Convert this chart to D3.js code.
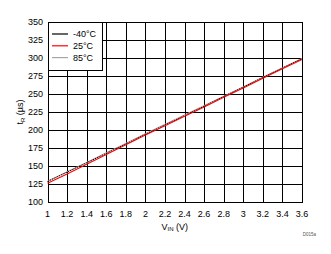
<!DOCTYPE html>
<html lang="en">
<head>
<meta charset="utf-8"/>
<title>tR vs VIN</title>
<script src="https://d3js.org/d3.v7.min.js"></script>
<style>
  body { margin: 0; background: #fff; }
  svg { font-family: "Liberation Sans", Arial, sans-serif; }
  .grid line { stroke: #000; stroke-width: 1; shape-rendering: crispEdges; }
  .grid .domain { display: none; }
  .series { fill: none; }
</style>
</head>
<body>
<div id="chart"></div>
<script>
// input voltage (V)
var vin = [1.0, 1.2, 1.4, 1.6, 1.8, 2.0, 2.2, 2.4, 2.6, 2.8, 3.0, 3.2, 3.4, 3.6];

// rise time (us)
var tMinus40 = [128.5, 141.5, 154.5, 167.5, 180.5, 194, 207, 220, 233, 246.5, 259.5, 273, 286, 299];
var t25      = [126, 139, 152.5, 166, 179.5, 193, 206, 219, 232, 245.5, 258.5, 272, 285, 298];
var t85      = [129, 142, 155, 168.5, 181.5, 195, 208, 221, 234, 247, 260, 273.5, 286.5, 299.5];

var xTicks = [1, 1.2, 1.4, 1.6, 1.8, 2, 2.2, 2.4, 2.6, 2.8, 3, 3.2, 3.4, 3.6];
var yTicks = [100, 125, 150, 175, 200, 225, 250, 275, 300, 325, 350];

var seriesNames = ["-40\u00B0C", "25\u00B0C", "85\u00B0C"];
var seriesColors = ["#000000", "#ff0000", "#a6a6a6"];

var W = 331, H = 254;
var plotL = 47.5, plotR = 302, plotT = 22, plotB = 202;

var x = d3.scaleLinear().domain([1, 3.6]).range([plotL, plotR]);
var y = d3.scaleLinear().domain([100, 350]).range([plotB, plotT]);

var svg = d3.select("#chart").append("svg")
    .attr("width", W)
    .attr("height", H);

// grid
svg.append("g")
    .attr("class", "grid")
    .attr("transform", "translate(0," + plotB + ")")
    .call(d3.axisBottom(x).tickValues(xTicks).tickSize(-(plotB - plotT)).tickFormat(""));

svg.append("g")
    .attr("class", "grid")
    .attr("transform", "translate(" + plotL + ",0)")
    .call(d3.axisLeft(y).tickValues(yTicks).tickSize(-(plotR - plotL)).tickFormat(""));

// frame
svg.append("rect")
    .attr("x", x(1) + 0.5).attr("y", y(350) + 0.5)
    .attr("width", x(3.6) - x(1)).attr("height", y(100) - y(350))
    .attr("fill", "none").attr("stroke", "#000").attr("shape-rendering", "crispEdges");

// tick labels
svg.append("g").selectAll("text")
    .data(xTicks)
  .enter().append("text")
    .attr("x", function(d) { return x(d); })
    .attr("y", 216.5)
    .attr("text-anchor", "middle")
    .style("font-size", "9px")
    .text(function(d) { return d3.format("")(d); });

svg.append("g").selectAll("text")
    .data(yTicks)
  .enter().append("text")
    .attr("x", 43)
    .attr("y", function(d) { return y(d) + 3.3; })
    .attr("text-anchor", "end")
    .style("font-size", "9px")
    .text(function(d) { return d; });

// axis titles
var xt = svg.append("text")
    .attr("x", (plotL + plotR) / 2)
    .attr("y", 229.5)
    .attr("text-anchor", "middle")
    .style("font-size", "9px");
xt.append("tspan").text("V");
xt.append("tspan").attr("dy", 1.5).style("font-size", "6px").text("IN");
xt.append("tspan").attr("dy", -1.5).text(" (V)");

var yt = svg.append("text")
    .attr("transform", "translate(23," + ((plotT + plotB) / 2) + ") rotate(-90)")
    .attr("text-anchor", "middle")
    .style("font-size", "9px");
yt.append("tspan").text("t");
yt.append("tspan").attr("dy", 1.5).style("font-size", "6px").text("R");
yt.append("tspan").attr("dy", -1.5).text(" (\u00B5s)");

// series (gray under black under red)
var line = d3.line()
    .x(function(d) { return x(d[0]); })
    .y(function(d) { return y(d[1]); });

function pairs(vals) { return vin.map(function(v, i) { return [v, vals[i]]; }); }

svg.append("path").attr("class", "series")
    .attr("d", line(pairs(t85)))
    .attr("stroke", seriesColors[2]).attr("stroke-width", 1);
svg.append("path").attr("class", "series")
    .attr("d", line(pairs(tMinus40)))
    .attr("stroke", seriesColors[0]).attr("stroke-width", 1)
    .attr("stroke-dasharray", "1.5,1");
svg.append("path").attr("class", "series")
    .attr("d", line(pairs(t25)))
    .attr("stroke", seriesColors[1]).attr("stroke-width", 1.1);

// legend
var lg = svg.append("g");
lg.append("rect")
    .attr("x", 48.5).attr("y", 22.5)
    .attr("width", 53.5).attr("height", 48)
    .attr("fill", "#fff").attr("stroke", "#000")
    .attr("shape-rendering", "crispEdges");

var rows = lg.selectAll("g.row")
    .data(seriesNames)
  .enter().append("g")
    .attr("class", "row")
    .attr("transform", function(d, i) { return "translate(0," + (34 + i * 11.8) + ")"; });

rows.append("line")
    .attr("x1", 52).attr("x2", 68)
    .attr("y1", 0).attr("y2", 0)
    .attr("stroke", function(d, i) { return seriesColors[i]; })
    .attr("stroke-width", 1.2);

rows.append("text")
    .attr("x", 73)
    .attr("y", 3.3)
    .style("font-size", "9px")
    .text(function(d) { return d; });

// figure id
svg.append("text")
    .attr("x", 316)
    .attr("y", 236)
    .attr("text-anchor", "end")
    .style("font-size", "4.5px")
    .attr("fill", "#555")
    .text("D015a");
</script>
</body>
</html>
